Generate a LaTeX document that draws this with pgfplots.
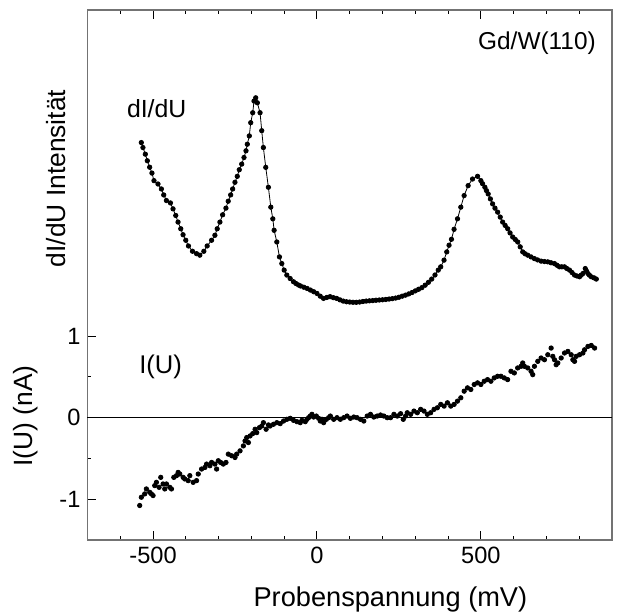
\documentclass[border=0pt]{standalone}
\usepackage{fontspec}
\setmainfont{Liberation Sans}
\usepackage{pgfplots}
\pgfplotsset{compat=1.18}
\begin{document}
\begin{tikzpicture}[font=\fontsize{11.5}{14}\selectfont]
\begin{axis}[
  scale only axis, width=262.25pt, height=265pt,
  xmin=-700, xmax=900, ymin=-1.5, ymax=5,
  axis line style={draw=black!55, line width=0.8pt},
  xtick={-500,0,500}, xticklabels={-500,0,500},
  minor xtick={-600,-400,-300,-200,-100,100,200,300,400,600,700,800},
  ytick={-1,0,1}, yticklabels={-1,0,1}, minor ytick={-0.5,0.5},
  tick align=inside, xtick pos=both, ytick pos=left,
  major tick length=4.5pt, minor tick length=2pt,
  tick style={black, line width=0.5pt},
  tick label style={font=\fontsize{11.8}{14}\selectfont},
  clip=false,
]
\coordinate (bl) at (rel axis cs:0,0);
\coordinate (tr) at (rel axis cs:1,1);
\addplot[black, line width=0.7pt, no marks] coordinates {(-700,0) (900,0)};
\addplot[black, line width=0.4pt, mark=*, mark size=1.1pt] coordinates {
(-535.8,3.374) (-530.9,3.313) (-523.6,3.232) (-517.5,3.151) (-510.4,3.072) (-503.4,3.000) (-497.2,2.907) (-485.0,2.866) (-474.6,2.805) (-467.5,2.732) (-459.3,2.663) (-447.0,2.634) (-439.1,2.561) (-430.8,2.480) (-423.8,2.399) (-415.5,2.317) (-408.5,2.244) (-400.2,2.176) (-392.0,2.106) (-379.7,2.041) (-367.4,2.012) (-357.3,1.993) (-345.1,2.041) (-335.0,2.106) (-321.5,2.176) (-311.4,2.237) (-304.3,2.317) (-296.1,2.399) (-287.8,2.488) (-277.7,2.570) (-270.7,2.655) (-263.3,2.732) (-257.2,2.805) (-250.2,2.887) (-243.1,2.960) (-237.0,3.041) (-229.6,3.110) (-222.6,3.191) (-216.5,3.273) (-212.5,3.354) (-206.4,3.456) (-202.1,3.618) (-196.0,3.740) (-192.0,3.883) (-186.8,3.923) (-181.9,3.862) (-173.6,3.740) (-168.5,3.52) (-163.5,3.313) (-156.2,3.070) (-148.2,2.826) (-140.8,2.582) (-134.7,2.439) (-130.7,2.298) (-122.5,2.155) (-114.5,1.972) (-107.2,1.890) (-100.1,1.810) (-91.9,1.749) (-81.8,1.707) (-71.6,1.667) (-64,1.645) (-56.3,1.627) (-50,1.615) (-40,1.60) (-30,1.585) (-20,1.565) (-10,1.545) (0,1.524) (10,1.49) (20,1.463) (30,1.475) (40,1.484) (50,1.472) (60,1.463) (70,1.445) (80,1.43) (90,1.422) (100,1.418) (110,1.415) (120,1.415) (130,1.418) (140,1.425) (150,1.43) (160,1.433) (170,1.436) (180,1.44) (190,1.443) (200,1.446) (210,1.45) (220,1.455) (230,1.46) (240,1.467) (250,1.477) (260,1.49) (270,1.503) (280,1.518) (290,1.535) (300,1.555) (310,1.575) (320,1.595) (330,1.625) (340,1.66) (350,1.70) (360,1.75) (370,1.81) (377.5,1.850) (387.6,1.932) (395.9,2.033) (402.9,2.115) (410.3,2.188) (418.2,2.310) (428.7,2.439) (438.8,2.582) (448.9,2.724) (461.1,2.846) (474.6,2.927) (489.9,2.960) (500.0,2.907) (505,2.87) (512.2,2.826) (517,2.785) (522.3,2.744) (529,2.683) (535.8,2.622) (543,2.57) (551.1,2.521) (559,2.46) (566.4,2.399) (574,2.358) (581.8,2.317) (589,2.266) (597.1,2.216) (605,2.185) (612.4,2.155) (620,2.095) (627.7,2.033) (635,2.01) (643.0,1.993) (653,1.972) (663.2,1.951) (673,1.935) (683.7,1.920) (694,1.915) (704.2,1.911) (714,1.90) (724.4,1.890) (732,1.87) (739.7,1.850) (747,1.85) (755.1,1.850) (762,1.83) (770.4,1.810) (778,1.78) (785.7,1.749) (793,1.738) (801.0,1.728) (806,1.748) (811.4,1.768) (818.4,1.829) (822,1.80) (826.7,1.768) (831,1.748) (836.8,1.728) (845,1.715) (852.1,1.700)
};
\addplot[only marks, black, mark=*, mark size=1.1pt] coordinates {
(-540.8,-1.077) (-535.7,-0.976) (-525.5,-0.935) (-520.4,-0.874) (-510.2,-0.915) (-505.1,-0.935) (-500.0,-0.955) (-494.9,-0.833) (-489.8,-0.793) (-481.6,-0.854) (-476.5,-0.732) (-469.4,-0.813) (-464.3,-0.874) (-459.2,-0.813) (-449.0,-0.854) (-443.9,-0.874) (-436.7,-0.732) (-428.6,-0.711) (-423.5,-0.671) (-418.4,-0.691) (-408.2,-0.732) (-403.1,-0.752) (-392.9,-0.772) (-387.8,-0.711) (-377.6,-0.793) (-367.3,-0.772) (-362.2,-0.691) (-352.0,-0.630) (-341.8,-0.610) (-336.7,-0.569) (-326.5,-0.589) (-321.4,-0.549) (-311.2,-0.569) (-306.1,-0.630) (-301.0,-0.528) (-293.9,-0.549) (-285.7,-0.569) (-277.6,-0.549) (-270.4,-0.447) (-260.2,-0.467) (-250.0,-0.488) (-244.9,-0.447) (-234.7,-0.407) (-224.5,-0.346) (-219.4,-0.285) (-214.3,-0.244) (-209.2,-0.305) (-204.1,-0.224) (-195.9,-0.195) (-188.8,-0.142) (-183.7,-0.183) (-175.5,-0.122) (-168.4,-0.102) (-163.3,-0.061) (-155.1,-0.142) (-148.0,-0.089) (-142.9,-0.102) (-132.7,-0.081) (-122.4,-0.061) (-112.2,-0.073) (-102.0,-0.041) (-91.8,-0.020) (-81.6,-0.008) (-71.4,-0.033) (-61.2,-0.049) (-51.0,-0.061) (-45.9,-0.033) (-35.7,-0.049) (-30.6,-0.020) (-25.5,0) (-20.4,0.020) (-15.3,0.041) (-10.2,0.008) (-2.0,0.020) (5.1,-0.008) (10.2,-0.041) (15.3,-0.020) (20.4,-0.061) (28.6,-0.020) (35.7,0) (40.8,0.020) (51.0,-0.020) (61.2,0) (71.4,-0.020) (81.6,0) (91.8,0.020) (102.0,-0.008) (112.2,0.008) (122.4,0) (132.7,-0.020) (142.9,-0.041) (153.1,0.020) (163.3,0.041) (173.5,0.008) (183.7,0.020) (193.9,0.033) (204.1,0.020) (214.3,0) (224.5,0) (234.7,0.041) (244.9,0.020) (255.1,0.049) (263.3,-0.020) (270.4,0.020) (275.5,0.061) (285.7,0.041) (295.9,0.081) (306.1,0.061) (316.3,0.102) (326.5,0.081) (336.7,0.041) (346.9,0.061) (357.1,0.102) (367.3,0.122) (377.6,0.163) (387.8,0.142) (398.0,0.183) (408.2,0.142) (418.4,0.163) (428.6,0.203) (438.8,0.244) (449.0,0.325) (459.2,0.366) (469.4,0.346) (479.6,0.407) (489.8,0.427) (500.0,0.407) (510.2,0.447) (520.4,0.467) (530.6,0.447) (540.8,0.488) (551.0,0.508) (561.2,0.508) (571.4,0.488) (581.6,0.467) (591.8,0.569) (602.0,0.549) (612.2,0.610) (622.4,0.630) (627.6,0.671) (632.7,0.630) (642.9,0.610) (653.1,0.569) (658.2,0.528) (663.3,0.630) (673.5,0.691) (683.7,0.732) (693.9,0.711) (704.1,0.772) (714.3,0.854) (719.4,0.752) (724.5,0.711) (729.6,0.650) (734.7,0.671) (744.9,0.732) (755.1,0.793) (765.3,0.813) (775.5,0.772) (780.6,0.711) (785.7,0.691) (790.8,0.752) (801.0,0.772) (811.2,0.793) (816.3,0.833) (826.5,0.874) (836.7,0.886) (846.9,0.854)
};
\node[font=\fontsize{12.2}{14}\selectfont] at (axis cs:671,4.594) {Gd/W(110)};
\node[font=\fontsize{12.4}{14}\selectfont] at (axis cs:-489,3.79) {dI/dU};
\node[font=\fontsize{12.8}{14}\selectfont] at (axis cs:-477,0.618) {I(U)};
\node[rotate=90, font=\fontsize{13.2}{15}\selectfont] at (axis cs:-795,2.933) {dI/dU Intensität};
\node[rotate=90, font=\fontsize{13.2}{15}\selectfont] at (axis cs:-890,0.02) {I(U) (nA)};
\node[font=\fontsize{13.6}{15}\selectfont] at (axis cs:224,-2.235) {Probenspannung (mV)};
\end{axis}
\pgfresetboundingbox
\path[use as bounding box] ([shift={(-43.75pt,-37pt)}]bl) rectangle ([shift={(3pt,5pt)}]tr);
\end{tikzpicture}
\end{document}
